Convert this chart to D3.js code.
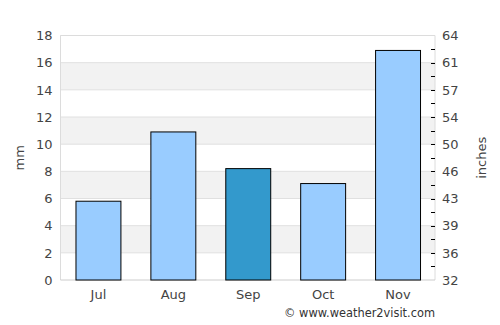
<!DOCTYPE html>
<html><head><meta charset="utf-8">
<script src="https://cdn.jsdelivr.net/npm/d3@7"></script>
<style>body{margin:0;background:#fff;}svg{display:block;font-family:"DejaVu Sans",sans-serif;}</style>
</head><body>
<svg id="c" width="500" height="325"></svg>
<script>
const months = ["Jul","Aug","Sep","Oct","Nov"];
const rainfallMm = [5.8, 10.9, 8.2, 7.1, 16.9];
const highlightMonth = "Sep";
const mmTicks = [0,2,4,6,8,10,12,14,16,18];
const inchLabels = ["32","36","39","43","46","50","54","57","61","64"];
const minorTicks = d3.range(0, 19, 1);

const svg = d3.select("#c");
const L = 60.5, R = 435, T = 35.5, B = 280;
const x = d3.scaleBand().domain(months).range([L, R]).paddingInner(0.4).paddingOuter(0.2);
const y = d3.scaleLinear().domain([0, 18]).range([B, T]);

// alternating bands
for (let i = 0; i < mmTicks.length - 1; i++) {
  if (i % 2 === 1) {
    svg.append("rect").attr("x", L).attr("width", R - L)
      .attr("y", y(mmTicks[i+1])).attr("height", y(mmTicks[i]) - y(mmTicks[i+1]))
      .attr("fill", "#f2f2f2");
  }
}
// grid lines
svg.append("g").selectAll("line").data(mmTicks.slice(1)).join("line")
  .attr("x1", L).attr("x2", R).attr("y1", d => y(d)).attr("y2", d => y(d))
  .attr("stroke", "#e0e0e0").attr("stroke-width", 1);
// border
svg.append("path").attr("d", `M${L},${B}V${T}H${R}V${B}`).attr("fill", "none").attr("stroke", "#dcdcdc");
svg.append("line").attr("x1", L).attr("x2", R).attr("y1", B).attr("y2", B).attr("stroke", "#cccccc");

// bars
svg.append("g").selectAll("rect").data(months).join("rect")
  .attr("x", d => x(d) + 0.5).attr("width", x.bandwidth())
  .attr("y", (d, i) => y(rainfallMm[i])).attr("height", (d, i) => B - y(rainfallMm[i]))
  .attr("fill", d => d === highlightMonth ? "#3399cc" : "#99ccff")
  .attr("stroke", "#000").attr("stroke-width", 1);

// left axis
const leftAxis = d3.axisLeft(y).tickValues(mmTicks).tickSize(0).tickPadding(8);
const gl = svg.append("g").attr("transform", `translate(${L},0)`).call(leftAxis);
gl.select(".domain").remove();
gl.selectAll("text").attr("font-size", 13).attr("fill", "#444").attr("font-family", "DejaVu Sans, sans-serif");

// right axis (labels)
const rightAxis = d3.axisRight(y).tickValues(mmTicks).tickFormat((d, i) => inchLabels[i]).tickSize(0).tickPadding(7);
const gr = svg.append("g").attr("transform", `translate(${R},0)`).call(rightAxis);
gr.select(".domain").remove();
gr.selectAll("text").attr("font-size", 13).attr("fill", "#444").attr("font-family", "DejaVu Sans, sans-serif");
// right minor ticks
svg.append("g").selectAll("line").data(minorTicks.filter(d => d > 0 && d < 18)).join("line")
  .attr("x1", R - 4).attr("x2", R).attr("y1", d => Math.round(y(d)) + 0.5).attr("y2", d => Math.round(y(d)) + 0.5)
  .attr("stroke", "#000").attr("stroke-width", 1);

// bottom axis
const bottomAxis = d3.axisBottom(x).tickSize(0).tickPadding(10);
const gb = svg.append("g").attr("transform", `translate(0.5,${B})`).call(bottomAxis);
gb.select(".domain").remove();
gb.selectAll("text").attr("font-size", 13).attr("fill", "#444").attr("font-family", "DejaVu Sans, sans-serif");

// axis titles
svg.append("text").attr("transform", `translate(24,${(T+B)/2}) rotate(-90)`).attr("text-anchor", "middle")
  .attr("font-size", 13).attr("fill", "#444").text("mm");
svg.append("text").attr("transform", `translate(486,${(T+B)/2}) rotate(-90)`).attr("text-anchor", "middle")
  .attr("font-size", 13).attr("fill", "#444").text("inches");

// credit
svg.append("text").attr("x", 435).attr("y", 317).attr("text-anchor", "end")
  .attr("font-size", 11.4).attr("fill", "#333").text("© www.weather2visit.com");
</script>
</body></html>
